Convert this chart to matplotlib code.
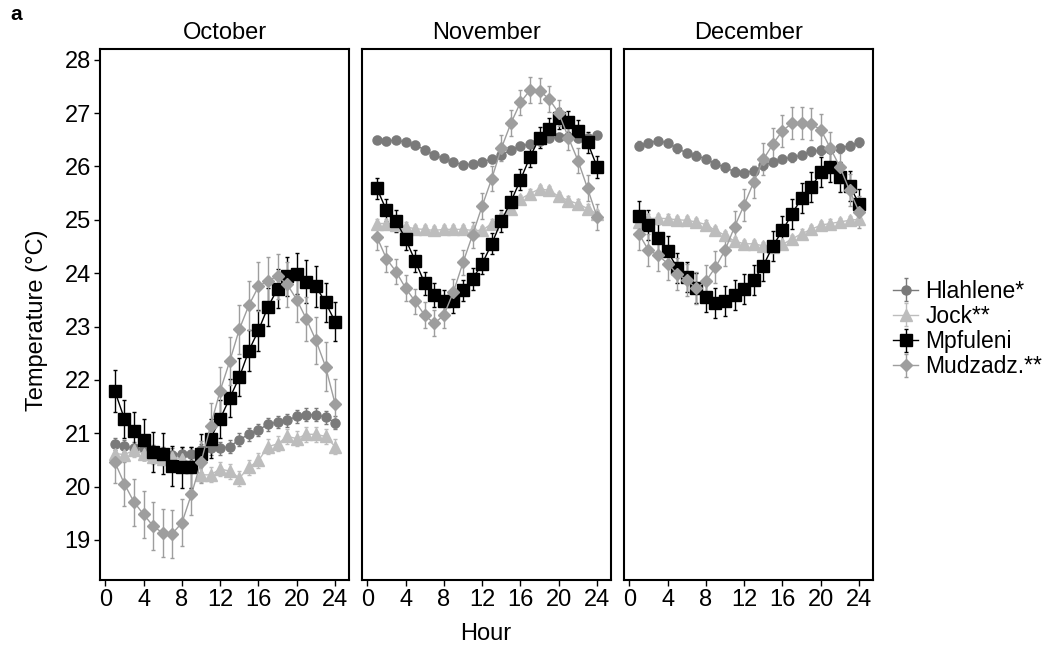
import matplotlib
matplotlib.use("Agg")
import matplotlib.pyplot as plt

plt.rcParams['font.family'] = ['Liberation Sans', 'DejaVu Sans']

hours = list(range(1, 25))
months = ["October", "November", "December"]
sites = ["Hlahlene*", "Jock**", "Mpfuleni", "Mudzadz.**"]

# mean hourly temperature per site and month
oct_hlahlene = [20.80, 20.76, 20.72, 20.70, 20.66, 20.62, 20.60, 20.62, 20.62, 20.68, 20.72, 20.72,
                20.75, 20.88, 20.98, 21.06, 21.17, 21.21, 21.24, 21.32, 21.35, 21.35, 21.30, 21.20]
oct_jock = [20.62, 20.60, 20.68, 20.62, 20.55, 20.52, 20.55, 20.52, 20.39, 20.22, 20.22, 20.33,
            20.29, 20.16, 20.36, 20.49, 20.75, 20.80, 20.94, 20.90, 20.98, 20.98, 20.94, 20.75]
oct_mpfuleni = [21.79, 21.27, 21.04, 20.88, 20.65, 20.62, 20.39, 20.36, 20.36, 20.62, 20.90, 21.27,
                21.66, 22.05, 22.55, 22.93, 23.37, 23.71, 23.94, 23.99, 23.84, 23.75, 23.45, 23.09]
oct_mudzadz = [20.46, 20.05, 19.71, 19.48, 19.26, 19.13, 19.12, 19.32, 19.86, 20.46, 21.14, 21.80,
               22.35, 22.95, 23.40, 23.75, 23.86, 23.94, 23.79, 23.50, 23.14, 22.74, 22.25, 21.55]

nov_hlahlene = [26.50, 26.47, 26.50, 26.45, 26.40, 26.31, 26.21, 26.15, 26.08, 26.03, 26.04, 26.08,
                26.14, 26.21, 26.31, 26.38, 26.42, 26.48, 26.53, 26.55, 26.56, 26.53, 26.53, 26.58]
nov_jock = [24.93, 24.93, 24.91, 24.87, 24.83, 24.82, 24.80, 24.82, 24.82, 24.82, 24.80, 24.80,
            24.93, 25.05, 25.21, 25.39, 25.49, 25.58, 25.55, 25.44, 25.36, 25.30, 25.21, 25.11]
nov_mpfuleni = [25.59, 25.18, 24.98, 24.64, 24.23, 23.81, 23.59, 23.47, 23.47, 23.68, 23.89, 24.18,
                24.55, 24.98, 25.34, 25.75, 26.18, 26.54, 26.70, 26.90, 26.84, 26.67, 26.45, 25.99]
nov_mudzadz = [24.68, 24.27, 24.03, 23.72, 23.47, 23.21, 23.06, 23.21, 23.65, 24.20, 24.72, 25.26,
               25.77, 26.34, 26.81, 27.20, 27.43, 27.42, 27.26, 27.00, 26.54, 26.11, 25.59, 25.05]

dec_hlahlene = [26.39, 26.44, 26.48, 26.44, 26.34, 26.25, 26.20, 26.14, 26.05, 25.98, 25.90, 25.88,
                25.92, 26.02, 26.08, 26.14, 26.17, 26.21, 26.28, 26.30, 26.33, 26.34, 26.39, 26.45]
dec_jock = [24.96, 25.02, 25.03, 25.02, 25.00, 24.99, 24.96, 24.91, 24.80, 24.71, 24.60, 24.55,
            24.55, 24.51, 24.49, 24.54, 24.64, 24.74, 24.82, 24.90, 24.93, 24.96, 24.99, 25.01]
dec_mpfuleni = [25.08, 24.90, 24.65, 24.41, 24.10, 23.93, 23.72, 23.56, 23.44, 23.47, 23.59, 23.70,
                23.87, 24.14, 24.51, 24.80, 25.11, 25.41, 25.61, 25.89, 25.99, 25.80, 25.64, 25.30]
dec_mudzadz = [24.74, 24.43, 24.34, 24.18, 23.99, 23.87, 23.72, 23.85, 24.11, 24.43, 24.87, 25.28,
               25.71, 26.13, 26.42, 26.67, 26.81, 26.81, 26.79, 26.69, 26.34, 25.99, 25.55, 25.15]

# standard errors
oct_hlahlene_se = [0.12, 0.12, 0.12, 0.12, 0.12, 0.12, 0.12, 0.12, 0.12, 0.12, 0.12, 0.12,
                   0.12, 0.12, 0.12, 0.12, 0.12, 0.12, 0.12, 0.12, 0.12, 0.12, 0.12, 0.12]
oct_jock_se = [0.12, 0.12, 0.12, 0.12, 0.12, 0.12, 0.12, 0.12, 0.14, 0.14, 0.14, 0.14,
               0.14, 0.14, 0.14, 0.14, 0.14, 0.14, 0.14, 0.14, 0.14, 0.14, 0.14, 0.14]
oct_mpfuleni_se = [0.40, 0.36, 0.36, 0.38, 0.38, 0.38, 0.38, 0.38, 0.38, 0.36, 0.36, 0.36,
                   0.36, 0.36, 0.38, 0.38, 0.36, 0.36, 0.36, 0.38, 0.40, 0.38, 0.36, 0.36]
oct_mudzadz_se = [0.40, 0.42, 0.44, 0.44, 0.45, 0.45, 0.45, 0.44, 0.40, 0.40, 0.42, 0.44,
                  0.45, 0.46, 0.46, 0.46, 0.44, 0.42, 0.42, 0.42, 0.42, 0.44, 0.46, 0.46]

nov_hlahlene_se = [0.07] * 24
nov_jock_se = [0.08] * 24
nov_mpfuleni_se = [0.20, 0.20, 0.20, 0.20, 0.20, 0.22, 0.22, 0.22, 0.22, 0.20, 0.20, 0.20,
                   0.20, 0.20, 0.20, 0.20, 0.20, 0.20, 0.20, 0.20, 0.20, 0.20, 0.20, 0.20]
nov_mudzadz_se = [0.24] * 24

dec_hlahlene_se = [0.08] * 24
dec_jock_se = [0.08] * 24
dec_mpfuleni_se = [0.28] * 24
dec_mudzadz_se = [0.30] * 24

means = [[oct_hlahlene, oct_jock, oct_mpfuleni, oct_mudzadz],
         [nov_hlahlene, nov_jock, nov_mpfuleni, nov_mudzadz],
         [dec_hlahlene, dec_jock, dec_mpfuleni, dec_mudzadz]]
errors = [[oct_hlahlene_se, oct_jock_se, oct_mpfuleni_se, oct_mudzadz_se],
          [nov_hlahlene_se, nov_jock_se, nov_mpfuleni_se, nov_mudzadz_se],
          [dec_hlahlene_se, dec_jock_se, dec_mpfuleni_se, dec_mudzadz_se]]

colors = ["#7a7a7a", "#bdbdbd", "#000000", "#9e9e9e"]
markers = ["o", "^", "s", "D"]
msizes = [6.5, 8, 8.5, 6.5]

fs = 17

fig = plt.figure(figsize=(10.48, 6.52), dpi=100)
W, H = 1048, 652
panel_left = [100, 362, 624]
panel_w = 249
top, bottom = 49, 580

axes = []
for i, month in enumerate(months):
    ax = fig.add_axes([panel_left[i] / W, 1 - bottom / H, panel_w / W, (bottom - top) / H])
    for j, site in enumerate(sites):
        ax.errorbar(hours, means[i][j], yerr=errors[i][j], color=colors[j], marker=markers[j],
                    markersize=msizes[j], linewidth=1, elinewidth=1, capsize=1.5, capthick=1,
                    label=site)
    ax.set_xlim(-0.55, 25.45)
    ax.set_ylim(18.25, 28.2)
    ax.set_xticks([0, 4, 8, 12, 16, 20, 24])
    ax.set_yticks(range(19, 29))
    ax.tick_params(labelsize=fs, length=4.5, width=1, colors="black", pad=2)
    if i > 0:
        ax.tick_params(axis="y", left=False, labelleft=False)
    for sp in ax.spines.values():
        sp.set_linewidth(1.5)
    ax.set_title(month, fontsize=fs, pad=7)
    axes.append(ax)

axes[0].set_ylabel("Temperature (°C)", fontsize=fs)
axes[0].yaxis.set_label_coords(-0.21, 0.49)
fig.text(486 / W, 1 - 634 / H, "Hour", fontsize=fs, ha="center", va="center")
fig.text(10 / W, 1 - 15 / H, "a", fontsize=15, fontweight="bold", ha="left", va="center")

handles, labels = axes[0].get_legend_handles_labels()
fig.legend(handles, labels, loc="center left", bbox_to_anchor=(884 / W, 1 - 329 / H),
           frameon=False, fontsize=16.5, handlelength=1.1, handletextpad=0.3,
           labelspacing=0.1, borderaxespad=0)

plt.savefig("out.png", dpi=100)
